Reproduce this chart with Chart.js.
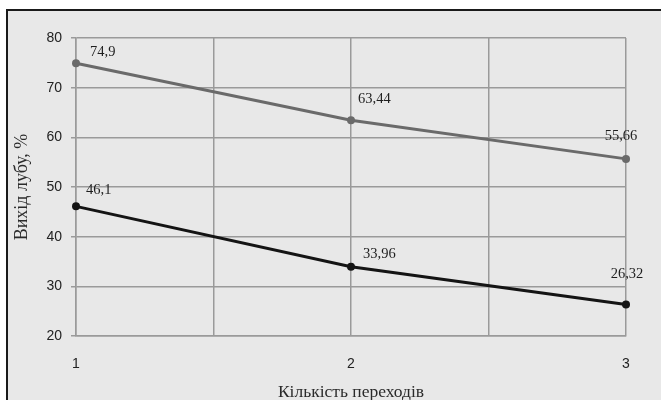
<!DOCTYPE html>
<html>
<head>
<meta charset="utf-8">
<script src="https://cdn.jsdelivr.net/npm/chart.js@4.4.0/dist/chart.umd.min.js"></script>
<style>
    html, body { margin: 0; padding: 0; background: #fff; overflow: hidden; }
    #frame {
        position: absolute; left: 6px; top: 9px;
        width: 660px; height: 396px;
        border: 2px solid #1a1a1a;
        background: #e8e8e8;
        overflow: hidden;
    }
    #chart { display: block; }
</style>
</head>
<body>
<div id="frame"><canvas id="chart" width="653" height="395"></canvas></div>
<script>
const transitions = [1, 2, 3];
const upperSeries = [74.9, 63.44, 55.66];
const lowerSeries = [46.1, 33.96, 26.32];
const yTicks = [20, 30, 40, 50, 60, 70, 80];

// label placement relative to each point (style only)
const labelOffsets = [
    [{ dx: 14, dy: -11, align: 'left' }, { dx: 7, dy: -21, align: 'left' }, { dx: -5, dy: -23, align: 'center' }],
    [{ dx: 10, dy: -16, align: 'left' }, { dx: 12, dy: -12, align: 'left' }, { dx: 1, dy: -30, align: 'center' }]
];

const pointLabels = {
    id: 'pointLabels',
    afterDatasetsDraw(chart) {
        const ctx = chart.ctx;
        ctx.save();
        ctx.font = '14.5px "Liberation Serif", serif';
        ctx.fillStyle = '#1e1e1e';
        ctx.textBaseline = 'middle';
        chart.data.datasets.forEach((ds, i) => {
            const meta = chart.getDatasetMeta(i);
            meta.data.forEach((pt, j) => {
                const o = labelOffsets[i][j];
                ctx.textAlign = o.align;
                ctx.fillText(String(ds.data[j].y).replace('.', ','), pt.x + o.dx, pt.y + o.dy);
            });
        });
        ctx.restore();
    }
};

const toPoints = vals => vals.map((v, i) => ({ x: transitions[i], y: v }));

new Chart(document.getElementById('chart'), {
    type: 'line',
    data: {
        datasets: [
            {
                data: toPoints(upperSeries),
                borderColor: '#6a6a6a',
                backgroundColor: '#6a6a6a',
                borderWidth: 3,
                pointRadius: 4,
                pointBorderWidth: 0,
                clip: false
            },
            {
                data: toPoints(lowerSeries),
                borderColor: '#141414',
                backgroundColor: '#141414',
                borderWidth: 3,
                pointRadius: 4,
                pointBorderWidth: 0,
                clip: false
            }
        ]
    },
    options: {
        responsive: false,
        animation: false,
        events: [],
        layout: { padding: { top: 27, right: 35, left: 0, bottom: 0 } },
        plugins: { legend: { display: false }, tooltip: { enabled: false } },
        scales: {
            x: {
                type: 'linear',
                min: 1,
                max: 3,
                grid: { color: '#9a9a9a', lineWidth: 1.5, drawTicks: false },
                border: { color: '#9a9a9a', width: 1.5 },
                ticks: {
                    stepSize: 0.5,
                    padding: 20,
                    color: '#222',
                    font: { family: '"Liberation Sans", sans-serif', size: 14 },
                    callback: v => Number.isInteger(v) ? String(v) : ''
                },
                title: {
                    display: true,
                    text: 'Кількість переходів',
                    color: '#2a2a2a',
                    font: { family: '"Liberation Serif", serif', size: 17.5 },
                    padding: { top: 4, bottom: 3 }
                },
                afterFit: s => { s.height = 70; }
            },
            y: {
                min: 20,
                max: 80,
                afterBuildTicks: s => { s.ticks = yTicks.map(v => ({ value: v })); },
                grid: { color: '#9a9a9a', lineWidth: 1.5, tickLength: 5 },
                border: { color: '#9a9a9a', width: 1.5 },
                ticks: {
                    padding: 9,
                    color: '#222',
                    font: { family: '"Liberation Sans", sans-serif', size: 14 }
                },
                title: {
                    display: true,
                    text: 'Вихід лубу, %',
                    color: '#2a2a2a',
                    font: { family: '"Liberation Serif", serif', size: 18 },
                    padding: { top: 3, bottom: 4 }
                },
                afterFit: s => { s.width = 68; }
            }
        }
    },
    plugins: [pointLabels]
});
</script>
</body>
</html>
